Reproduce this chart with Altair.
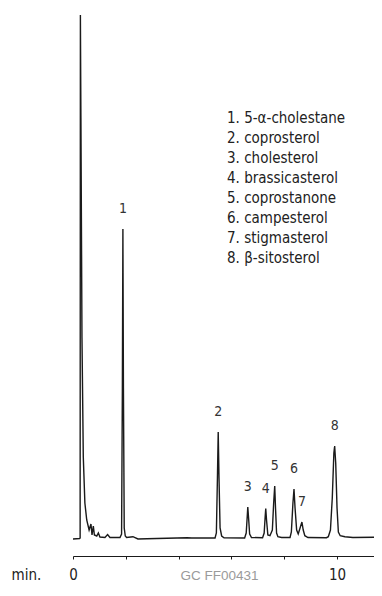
import altair as alt
import pandas as pd

# ---- trace of the chromatogram (time in min, detector signal in arbitrary units) ----
trace_time = [
    0.00, 0.25, 0.27, 0.28, 0.30, 0.34, 0.39, 0.45, 0.52, 0.61, 0.68, 0.72, 0.77, 0.81,
    0.90, 0.96, 1.02, 1.21, 1.31, 1.40, 1.78,
    1.84, 1.87, 1.89, 1.91, 1.94, 1.98, 2.03, 2.27, 2.46, 2.80, 4.32, 4.50,
    5.38, 5.43, 5.47, 5.50, 5.53, 5.57, 5.63, 5.72,
    6.50, 6.56, 6.60, 6.62, 6.65, 6.69, 6.76,
    7.18, 7.24, 7.28, 7.30, 7.33, 7.38, 7.46,
    7.55, 7.60, 7.64, 7.67, 7.71, 7.76, 7.90, 8.15,
    8.22, 8.27, 8.33, 8.37, 8.41, 8.47, 8.53,
    8.60, 8.67, 8.72, 8.78, 8.90, 9.60,
    9.67, 9.75, 9.82, 9.88, 9.91, 9.95, 10.00, 10.05, 10.12, 10.30, 10.60, 11.40,
]
trace_signal = [
    -1.0, -0.5, 0.0, 523.0, 420.0, 200.0, 81.0, 35.0, 18.0, 8.0, 14.0, 3.0, 12.0, 3.0,
    2.0, 5.0, 1.0, 0.5, 3.5, 0.5, 0.5,
    4.0, 150.0, 309.0, 150.0, 10.0, 2.0, 0.5, 1.3, -1.0, -0.7, 0.3, 0.0,
    0.0, 5.0, 60.0, 106.0, 60.0, 10.0, 2.0, 0.3,
    0.0, 5.0, 22.0, 31.0, 20.0, 4.0, 0.5,
    0.3, 5.0, 22.0, 29.5, 18.0, 3.0, 2.3,
    8.0, 35.0, 52.0, 30.0, 5.0, 1.3, 0.5, 0.5,
    0.5, 6.0, 35.0, 49.0, 30.0, 8.0, 4.0,
    10.0, 16.0, 8.0, 2.3, 0.5, 0.3,
    1.3, 8.0, 40.0, 85.0, 92.0, 75.0, 30.0, 6.0, 2.3, 1.3, 0.5, 0.8,
]

# ---- peaks ----
peak_number = ["1", "2", "3", "4", "5", "6", "7", "8"]
peak_time = [1.89, 5.50, 6.62, 7.30, 7.64, 8.37, 8.67, 9.91]
peak_height = [309, 106, 31, 29.5, 52, 49, 16, 92]
compound = [
    "5-α-cholestane", "coprosterol", "cholesterol", "brassicasterol",
    "coprostanone", "campesterol", "stigmasterol", "β-sitosterol",
]
legend_entry = [f"{n}. {c}" for n, c in zip(peak_number, compound)]

x_ticks = [0, 2, 4, 6, 8, 10]
x_shown_labels = [0, 10]

trace_df = pd.DataFrame({"time": trace_time, "signal": trace_signal})
peak_df = pd.DataFrame({"time": peak_time, "height": peak_height,
                        "number": peak_number, "entry": legend_entry})

NARROW = "DejaVu Sans Condensed, Liberation Sans Narrow, sans-serif"
INK = "#1a1a1a"

xscale = alt.Scale(domain=[0, 11.4], nice=False, zero=False)
yscale = alt.Scale(domain=[-18, 528], nice=False, zero=False)

label_test = " || ".join(f"datum.value == {v}" for v in x_shown_labels)

line = alt.Chart(trace_df).mark_line(color=INK, strokeWidth=1.4).encode(
    x=alt.X("time:Q", scale=xscale, axis=alt.Axis(
        values=x_ticks, labelExpr=f"({label_test}) ? datum.label : ''",
        grid=False, tickSize=3, tickColor=INK, domainColor=INK, domainWidth=1.2,
        labelFlush=False, labelFont=NARROW, labelFontSize=15, labelColor="#222",
        labelBaseline="alphabetic", labelPadding=20,
        title="min.", titleFont=NARROW, titleFontSize=15, titleFontWeight="normal",
        titleColor="#222", titleAngle=0, titleAlign="left", titleBaseline="alphabetic",
        titleX=-62, titleY=23)),
    y=alt.Y("signal:Q", scale=yscale, axis=None),
)

labels = alt.Chart(peak_df).mark_text(font=NARROW, fontSize=14, dy=-20, baseline="middle").encode(
    x=alt.X("time:Q", scale=xscale),
    y=alt.Y("height:Q", scale=yscale),
    text="number:N",
    color=alt.Color("entry:N", scale=alt.Scale(domain=legend_entry, range=["#333"] * 8),
                    legend=alt.Legend(title=None, orient="none", legendX=139, legendY=100,
                                      symbolOpacity=0, symbolSize=0, symbolStrokeWidth=0,
                                      labelFont=NARROW, labelFontSize=15, labelColor="#222",
                                      labelOffset=0, padding=0, rowPadding=4,
                                      labelLimit=300)),
)

chart = (line + labels).properties(
    width=301, height=546,
    autosize=alt.AutoSizeParams(type="none"),
    padding={"left": 65, "top": 2, "right": 0, "bottom": 28},
    title=alt.TitleParams("GC FF00431", orient="bottom", anchor="middle",
                          font="Liberation Sans", fontSize=13.5, fontWeight="normal",
                          color="#9a9a9a", offset=-13, dx=-4),
).configure_view(stroke=None)

chart.save("out.html", embed_options={"renderer": "svg", "actions": False})
